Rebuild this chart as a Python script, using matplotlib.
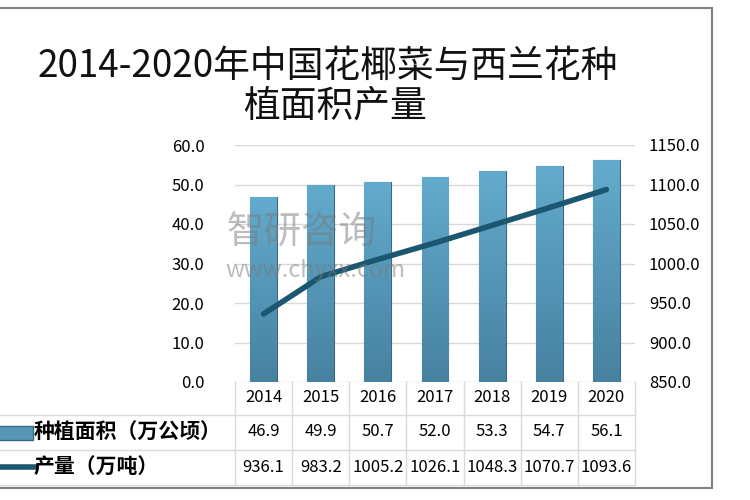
import numpy as np
import matplotlib
matplotlib.use("Agg")
import matplotlib.pyplot as plt
from matplotlib.patches import Rectangle
from matplotlib.lines import Line2D
import matplotlib.transforms as mtransforms

plt.rcParams['font.family'] = ['Noto Sans CJK SC', 'DejaVu Sans']

years = ['2014', '2015', '2016', '2017', '2018', '2019', '2020']
area = [46.9, 49.9, 50.7, 52.0, 53.3, 54.7, 56.1]
output = [936.1, 983.2, 1005.2, 1026.1, 1048.3, 1070.7, 1093.6]
area_label = '种植面积（万公顷）'
output_label = '产量（万吨）'

bar_top = '#63abcd'
bar_bottom = '#4781a0'
line_color = '#1b5770'
grid_color = '#d9d9d9'

W, H = 750, 500
fig = plt.figure(figsize=(7.5, 5), dpi=100)
fig.patch.set_facecolor('white')

# outer frame of the chart (left side cut off)
fig.patches.append(Rectangle((-10 / W, 1 - 488 / H), 722 / W, 480 / H,
                             transform=fig.transFigure, fill=False,
                             edgecolor='#808080', linewidth=1.5))

fig.text(328 / W, 1 - 66 / H, '2014-2020年中国花椰菜与西兰花种', ha='center', va='center',
         fontsize=26.5, color='#111111')
fig.text(335 / W, 1 - 106 / H, '植面积产量', ha='center', va='center',
         fontsize=26.5, color='#111111')

ax = fig.add_axes([235 / W, 1 - 382 / H, 400 / W, 237 / H])
ax2 = ax.twinx()
x = np.arange(len(years))

ax.set_ylim(0, 60)
ax.set_yticks(np.arange(0, 61, 10))
ax.set_yticklabels([f'{v:.1f}' for v in np.arange(0, 61, 10)])
ax.grid(axis='y', color=grid_color, linewidth=1)
ax.set_axisbelow(True)
ax.set_xticks([])
for s in ax.spines.values():
    s.set_visible(False)
for s in ax2.spines.values():
    s.set_visible(False)
ax.tick_params(axis='y', length=0, labelsize=12, pad=22)
for t in ax.get_yticklabels():
    t.set_fontweight('medium')

bars = ax.bar(x, area, width=0.47, color=bar_top, edgecolor='#3a6a82', linewidth=0.8, zorder=2)
grad = np.linspace(1, 0, 256).reshape(-1, 1)
cmap = matplotlib.colors.LinearSegmentedColormap.from_list('b', [bar_bottom, bar_top])
for b in bars:
    bx, by = b.get_x(), b.get_y()
    im = ax.imshow(grad, cmap=cmap, aspect='auto', zorder=2.5,
                   extent=[bx, bx + b.get_width(), by, by + b.get_height()])
    im.set_clip_path(b)
ax.set_xlim(-0.5, len(years) - 0.5)
ax.set_ylim(0, 60)

ax2.set_ylim(850, 1150)
ax2.set_yticks(np.arange(850, 1151, 50))
ax2.set_yticklabels([f'{v:.1f}' for v in np.arange(850, 1151, 50)])
ax2.tick_params(axis='y', length=0, labelsize=12, pad=10)
for t in ax2.get_yticklabels():
    t.set_fontweight('medium')
ax2.plot(x, output, color=line_color, linewidth=4, solid_capstyle='round', zorder=3)

# watermark
fig.text(226 / W, 1 - 232 / H, '智研咨询', fontsize=27, color='#7a7a7a', alpha=0.5,
         ha='left', va='center')
fig.text(225 / W, 1 - 271 / H, 'www.chyxx.com', fontsize=17, color='#7a7a7a', alpha=0.5,
         ha='left', va='center')

# data table under the plot
trans = mtransforms.blended_transform_factory(ax.transData, fig.transFigure)
row_y = [1 - 398 / H, 1 - 432 / H, 1 - 467 / H]
hlines = [1 - 382 / H, 1 - 415 / H, 1 - 450 / H, 1 - 485 / H]
for i in range(len(years) + 1):
    ax.add_line(Line2D([i - 0.5, i - 0.5], [hlines[0], hlines[-1]], transform=trans,
                       color=grid_color, linewidth=1, clip_on=False))
for hy in hlines[1:]:
    fig.add_artist(Line2D([0, 635 / W], [hy, hy], color=grid_color, linewidth=1))
for i, yr in enumerate(years):
    ax.text(i, row_y[0], yr, transform=trans, ha='center', va='center', fontsize=12,
            fontweight='medium')
    ax.text(i, row_y[1], f'{area[i]:.1f}', transform=trans, ha='center', va='center',
            fontsize=12, fontweight='medium')
    ax.text(i, row_y[2], f'{output[i]:.1f}', transform=trans, ha='center', va='center',
            fontsize=12, fontweight='medium')

fig.text(34 / W, row_y[1], area_label, ha='left', va='center', fontsize=15, fontweight='bold')
fig.text(34 / W, row_y[2], output_label, ha='left', va='center', fontsize=15, fontweight='bold')
fig.patches.append(Rectangle((-2 / W, 1 - 440 / H), 35 / W, 14 / H, transform=fig.transFigure,
                             facecolor='#5596b6', edgecolor='#3a6a82'))
fig.add_artist(Line2D([0, 35 / W], [row_y[2], row_y[2]], color=line_color, linewidth=4))

fig.savefig('out.png', dpi=100)
